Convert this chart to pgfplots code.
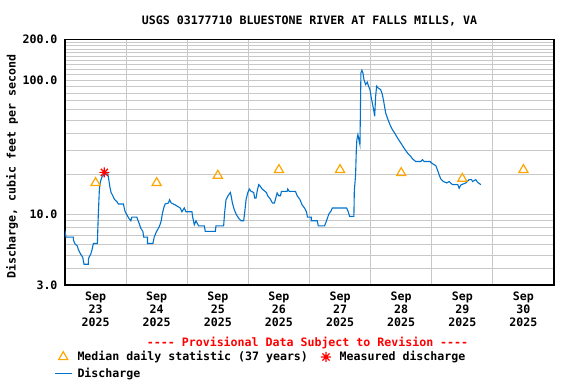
\documentclass[border=0pt]{standalone}
\usepackage{fontspec}
\newfontfamily\cf{DejaVu Sans Mono}
\usepackage{pgfplots}
\pgfplotsset{compat=1.18}
\definecolor{qblue}{RGB}{0,114,206}
\definecolor{qorange}{RGB}{255,165,0}
\definecolor{qgrid}{RGB}{200,200,200}
\pgfdeclareplotmark{star8}{%
 \pgfpathmoveto{\pgfqpoint{0pt}{\pgfplotmarksize}}\pgfpathlineto{\pgfqpoint{0pt}{-\pgfplotmarksize}}%
 \pgfpathmoveto{\pgfqpoint{\pgfplotmarksize}{0pt}}\pgfpathlineto{\pgfqpoint{-\pgfplotmarksize}{0pt}}%
 \pgfpathmoveto{\pgfqpoint{0.707\pgfplotmarksize}{0.707\pgfplotmarksize}}\pgfpathlineto{\pgfqpoint{-0.707\pgfplotmarksize}{-0.707\pgfplotmarksize}}%
 \pgfpathmoveto{\pgfqpoint{0.707\pgfplotmarksize}{-0.707\pgfplotmarksize}}\pgfpathlineto{\pgfqpoint{-0.707\pgfplotmarksize}{0.707\pgfplotmarksize}}%
 \pgfusepathqstroke}
\newcommand{\cff}{\cf\bfseries\fontsize{11.6bp}{13bp}\selectfont}
\begin{document}
\begin{tikzpicture}[x=1bp,y=1bp]
\path[use as bounding box] (0,0) rectangle (576,384);
\begin{axis}[
 at={(65bp,99bp)}, anchor=south west,
 scale only axis, width=489bp, height=245.5bp,
 xmin=0, xmax=8, ymode=log, ymin=3, ymax=200,
 xtick={0.5,1.5,2.5,3.5,4.5,5.5,6.5,7.5},
 xticklabels={{Sep\\23\\2025},{Sep\\24\\2025},{Sep\\25\\2025},{Sep\\26\\2025},{Sep\\27\\2025},{Sep\\28\\2025},{Sep\\29\\2025},{Sep\\30\\2025}},
 minor xtick={1,2,3,4,5,6,7},
 ytick={3,10,100,200}, yticklabels={3.0,10.0,100.0,200.0},
 minor ytick={4,5,6,7,8,9,20,30,40,50,60,70,80,90,110,120,130,140,150,160,170,180,190},
 xmajorgrids=false, xminorgrids=true, ymajorgrids=true, yminorgrids=true,
 grid style={qgrid, line width=1bp}, minor grid style={qgrid, line width=1bp},
 major tick length=0pt, minor tick length=0pt,
 axis line style={line width=1.3bp},
 tick label style={font=\cff},
 xticklabel style={align=center, yshift=-3bp},
 yticklabel style={xshift=-4bp},
 title={USGS 03177710 BLUESTONE RIVER AT FALLS MILLS, VA},
 title style={at={(axis description cs:0.5,1.052)}, anchor=center, font=\cff},
 ylabel={Discharge, cubic feet per second},
 ylabel style={at={(axis description cs:-0.108,0.483)}, anchor=center, font=\cff},
 xlabel={---- Provisional Data Subject to Revision ----},
 xlabel style={at={(axis description cs:0.496,-0.236)}, anchor=center, font=\cff, text=red},
 legend columns=2,
 legend cell align=left,
 legend style={draw=none, fill=none, font=\cff, at={(axis description cs:-0.0225,-0.262)}, anchor=north west, inner sep=0pt, row sep=2bp, nodes={inner xsep=0bp}, /tikz/every odd column/.append style={column sep=5.2bp}, /tikz/every even column/.append style={column sep=9.5bp}},
]
\addlegendimage{legend image code/.code={\path[draw=none] (0cm,0cm) -- (0.6cm,0cm); \draw[qorange, line width=1.2bp, mark size=5.3bp] plot[only marks, mark=triangle] coordinates {(0.3cm,0cm)};}}
\addlegendentry{Median daily statistic (37 years)}
\addlegendimage{legend image code/.code={\path[draw=none] (0cm,0cm) -- (0.6cm,0cm); \draw[red, line width=1.2bp, mark size=5bp] plot[only marks, mark=star8] coordinates {(0.3cm,0cm)};}}
\addlegendentry{Measured discharge}
\addlegendimage{legend image code/.code={\draw[draw=qblue, line width=1.1bp] (0cm,0cm) -- (0.6cm,0cm);}}
\addlegendentry{Discharge}
\addplot[forget plot, color=qblue, line width=1.1bp] coordinates {
(0,7.6)(0.016,6.8)(0.136,6.8)(0.136,6.5)(0.164,6.06)(0.202,5.85)(0.218,5.5)(0.257,5.08)(0.290,4.82)(0.311,4.28)(0.382,4.28)(0.382,4.66)(0.398,4.87)(0.421,5.08)(0.443,5.5)(0.464,6.1)(0.530,6.1)(0.536,7.6)(0.546,10.3)(0.562,15.3)(0.579,17.6)(0.607,19.2)(0.644,19.8)(0.700,20.1)(0.716,18.2)(0.738,15.7)(0.754,14.6)(0.782,13.8)(0.808,13.0)(0.848,12.5)(0.874,12.0)(0.956,12.0)(0.967,11.3)(0.984,10.5)(1.011,10.0)(1.044,9.4)(1.077,9.0)(1.093,9.57)(1.175,9.57)(1.192,9.1)(1.218,8.5)(1.241,7.9)(1.274,7.5)(1.287,6.8)(1.349,6.8)(1.349,6.1)(1.438,6.1)(1.459,6.8)(1.492,7.4)(1.546,8.2)(1.574,9.0)(1.595,10.3)(1.623,11.5)(1.639,12.0)(1.693,12.2)(1.710,12.9)(1.738,12.2)(1.803,11.8)(1.885,11.2)(1.913,10.5)(1.951,11.2)(1.979,10.5)(2.077,10.5)(2.087,9.7)(2.115,8.4)(2.143,9.0)(2.185,8.25)(2.279,8.25)(2.295,7.5)(2.459,7.5)(2.470,8.25)(2.595,8.25)(2.611,10.3)(2.634,12.9)(2.667,13.8)(2.705,14.6)(2.721,13.6)(2.738,12.2)(2.770,10.85)(2.803,10.0)(2.841,9.4)(2.880,9.0)(2.923,9.0)(2.939,10.3)(2.962,12.9)(2.989,14.5)(3.016,15.5)(3.044,14.9)(3.087,14.6)(3.103,13.3)(3.126,13.3)(3.143,14.9)(3.169,16.7)(3.197,16.2)(3.225,15.5)(3.295,14.6)(3.316,13.8)(3.361,13.0)(3.393,12.2)(3.426,12.2)(3.443,13.0)(3.470,14.5)(3.497,13.8)(3.525,13.8)(3.541,14.9)(3.634,14.9)(3.644,15.5)(3.667,14.9)(3.770,14.9)(3.798,13.8)(3.841,13.0)(3.880,11.8)(3.918,11.2)(3.951,10.5)(3.967,9.57)(4.028,9.57)(4.028,9.0)(4.126,9.0)(4.143,8.25)(4.246,8.25)(4.279,9.0)(4.316,10.1)(4.356,10.7)(4.372,11.2)(4.607,11.2)(4.634,10.5)(4.656,9.7)(4.726,9.7)(4.733,14.9)(4.754,19.8)(4.766,30.4)(4.775,36.1)(4.792,39.3)(4.808,36)(4.825,33.1)(4.831,50.8)(4.841,113)(4.857,118)(4.874,113)(4.890,101)(4.918,92.5)(4.946,96.3)(4.962,91)(4.989,84.9)(5.011,73.7)(5.033,65.6)(5.054,58.6)(5.066,53.7)(5.082,75.7)(5.098,89.9)(5.120,87.4)(5.164,84.9)(5.192,78)(5.218,67.6)(5.246,56.9)(5.284,50.8)(5.316,46.6)(5.356,42.8)(5.393,40.4)(5.438,37.2)(5.492,34.1)(5.546,31.3)(5.602,28.7)(5.656,27.1)(5.684,26.0)(5.738,24.8)(5.820,24.8)(5.848,25.6)(5.874,24.8)(5.972,24.8)(5.995,24.2)(6.066,23.1)(6.093,21.5)(6.120,19.8)(6.148,18.4)(6.192,17.6)(6.246,17.2)(6.284,17.6)(6.339,16.7)(6.426,16.7)(6.448,15.7)(6.475,16.6)(6.557,17.2)(6.611,18.2)(6.651,18.2)(6.667,17.6)(6.721,18.2)(6.749,17.4)(6.803,16.7)
};
\addplot[forget plot, only marks, mark=triangle, mark size=5.3bp, qorange, line width=1.2bp] coordinates {
(0.5,17.2)(1.5,17.2)(2.5,19.5)(3.5,21.5)(4.5,21.5)(5.5,20.4)(6.5,18.5)(7.5,21.5)
};
\addplot[forget plot, only marks, mark=star8, mark size=5bp, red, line width=1.2bp] coordinates {
(0.643,20.6)
};
\end{axis}
\end{tikzpicture}
\end{document}
